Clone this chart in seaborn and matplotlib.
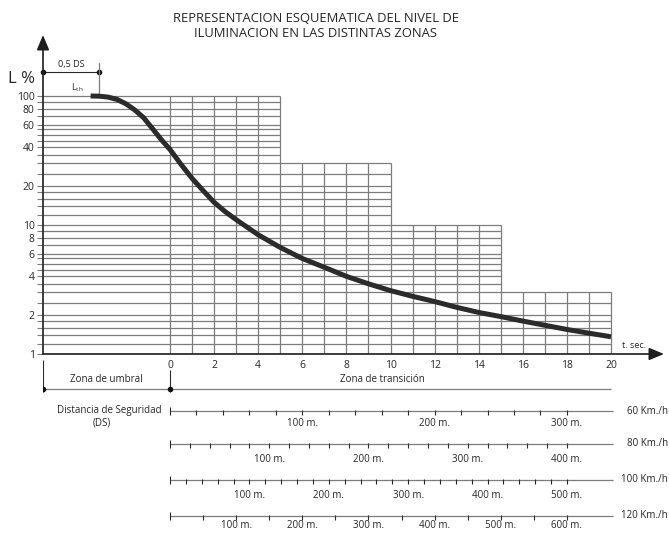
import numpy as np
import pandas as pd
import matplotlib
matplotlib.use("Agg")
import matplotlib.pyplot as plt
from matplotlib.ticker import NullLocator
import seaborn as sns

# ---------------- data ----------------
curve_t = [-3.6, -3.2, -2.8, -2.4, -2.0, -1.6, -1.2, -0.8, -0.4, 0.0, 0.5, 1.0, 1.5,
           2.0, 2.5, 3.0, 4.0, 5.0, 6.0, 7.0, 8.0, 9.0, 10.0, 11.0, 12.0, 13.0,
           14.0, 15.0, 16.0, 17.0, 18.0, 19.0, 20.0]
curve_L = [100, 99.7, 98, 94, 87, 78, 68, 56, 46, 38.5, 29.5, 23, 18.5,
           15, 12.7, 11, 8.4, 6.7, 5.5, 4.7, 4.0, 3.5, 3.1, 2.8, 2.55, 2.3,
           2.1, 1.95, 1.8, 1.67, 1.55, 1.45, 1.36]

step_start = [0, 5, 10, 15]          # s
step_end = [5, 10, 15, 20]           # s
step_level = [100, 30, 10, 3]        # %

grid_mult = [1, 1.2, 1.4, 1.6, 1.8, 2, 2.5, 3, 3.5, 4, 4.5, 5, 5.5, 6, 7, 8, 9]
ytick_labels = [1, 2, 4, 6, 8, 10, 20, 40, 60, 80, 100]
xtick_labels = [0, 2, 4, 6, 8, 10, 12, 14, 16, 18, 20]

speeds_kmh = [60, 80, 100, 120]
speed_tick_m = [20, 20, 20, 50]
speed_label_max_m = [300, 400, 500, 600]
label_step_m = 100

title = "REPRESENTACION ESQUEMATICA DEL NIVEL DE\nILUMINACION EN LAS DISTINTAS ZONAS"

# ---------------- layout (pixels of the 669x533 canvas) ----------------
W, H = 669, 533
AX_L, AX_R, AX_TOP, AX_BOT = 43, 664, 35, 354
X0_PX, PX_PER_S, DECADE_PX = 170, 22.05, 129
ZONE_Y = 389
SPEED_Y = [411, 444, 480, 516]
SPEED_LABEL_Y = [424, 460, 495, 526]

GRID_C = "#7c7c7c"
INK = "#2b2b2b"
TXT = "#262626"

sns.set_theme(style="white")
plt.rcParams["font.family"] = ["Open Sans", "DejaVu Sans"]
plt.rcParams["text.color"] = TXT


def fx(px):
    return px / W


def fy(py):
    return 1 - py / H


def px_to_t(px):
    return (px - X0_PX) / PX_PER_S


def py_to_L(py):
    return 10 ** ((AX_BOT - py) / DECADE_PX)


xlim = (px_to_t(AX_L), px_to_t(AX_R))

fig = plt.figure(figsize=(W / 100, H / 100), dpi=100)
ax = fig.add_axes([fx(AX_L), fy(AX_BOT), (AX_R - AX_L) / W, (AX_BOT - AX_TOP) / H])
ax.set_yscale("log")
ax.set_xlim(*xlim)
ax.set_ylim(1, py_to_L(AX_TOP))
for s in ax.spines.values():
    s.set_visible(False)

# horizontal grid lines, each running to the end of the highest step that reaches it
levels = [m * 10 ** d for d in (0, 1) for m in grid_mult] + [100]
for lv in levels:
    ends = [e for e, l in zip(step_end, step_level) if l >= lv - 1e-9]
    ax.hlines(lv, xlim[0], max(ends), color=GRID_C, lw=0.9, zorder=1)

# vertical grid lines inside each step block
for t in range(0, 21):
    tops = [l for s0, e, l in zip(step_start, step_end, step_level) if s0 <= t <= e]
    ax.vlines(t, 1, max(tops), color=GRID_C, lw=0.9, zorder=1)

# the curve
df = pd.DataFrame({"t": curve_t, "L": curve_L})
sns.lineplot(data=df, x="t", y="L", ax=ax, color=INK, lw=3.6, sort=False,
             solid_capstyle="butt", zorder=3)
ax.set_xlabel("")
ax.set_ylabel("")

# ticks
ax.set_yticks(levels, labels=[(f"{v:g}" if v in ytick_labels else "") for v in levels])
ax.yaxis.set_minor_locator(NullLocator())
ax.tick_params(axis="y", length=4, width=0.8, color=GRID_C, pad=2, labelsize=7.5,
               labelcolor=TXT, left=True)
ax.set_xticks(xtick_labels, labels=[str(v) for v in xtick_labels])
ax.xaxis.set_minor_locator(NullLocator())
ax.tick_params(axis="x", length=0, pad=4, labelsize=7.5, labelcolor=TXT, bottom=True)

# axis arrows
arrow = dict(arrowstyle="-|>,head_length=0.6,head_width=0.25", color="#1e1e1e",
             lw=1.2, mutation_scale=15, shrinkA=0, shrinkB=0)
ax.annotate("", xy=(1, 0), xytext=(0, 0), xycoords="axes fraction", arrowprops=arrow)
ax.annotate("", xy=(0, 1), xytext=(0, 0), xycoords="axes fraction", arrowprops=arrow)

# top annotations
fig.text(fx(21), fy(79), "L %", fontsize=12, ha="center", va="center", color=TXT)
half_ds = px_to_t(99)
ax.plot([xlim[0], half_ds], [py_to_L(72)] * 2, color=INK, lw=0.8, clip_on=False)
ax.plot([xlim[0], half_ds], [py_to_L(72)] * 2, ls="none", marker="o", ms=3,
        color="#111111", clip_on=False)
ax.plot([half_ds, half_ds], [py_to_L(93), py_to_L(63)], color=GRID_C, lw=0.9,
        clip_on=False)
fig.text(fx(71), fy(65), "0,5 DS", fontsize=6.5, ha="center", va="center", color=TXT)
fig.text(fx(77), fy(88), r"$\mathregular{L_{th}}$", fontsize=6.5, ha="center", va="center",
         color=TXT)
fig.text(fx(634), fy(346), "t. sec.", fontsize=6.5, ha="center", va="center", color=TXT)

fig.text(fx(316), fy(26), title, fontsize=9.4, ha="center", va="center",
         linespacing=1.25, color=TXT)

# ---------------- bottom rulers ----------------
bax = fig.add_axes([fx(AX_L), 0, (AX_R - AX_L) / W, (H - AX_BOT) / H], sharex=ax)
bax.set_ylim(H, AX_BOT)
bax.axis("off")

# zones
bax.hlines(ZONE_Y, xlim[0], 20, color=GRID_C, lw=0.9)
for t0, top in [(xlim[0], 360), (0, 370)]:
    bax.vlines(t0, top, ZONE_Y + 3, color=INK, lw=0.8)
    bax.plot([t0], [ZONE_Y], marker="o", ms=3, color="#111111")
bax.text((px_to_t(AX_L) + 0) / 2, 380, "Zona de umbral", fontsize=7, ha="center",
         va="center")
bax.text(9.65, 380, "Zona de transición", fontsize=7, ha="center", va="center")

bax.text(px_to_t(162), SPEED_Y[0] - 1, "Distancia de Seguridad", fontsize=7, ha="right",
         va="center")
bax.text(px_to_t(102), SPEED_Y[0] + 12, "(DS)", fontsize=7, ha="center", va="center")

for v, step, dmax, y, ly in zip(speeds_kmh, speed_tick_m, speed_label_max_m, SPEED_Y,
                                SPEED_LABEL_Y):
    ms = v / 3.6
    bax.hlines(y, 0, 20.1, color=GRID_C, lw=0.9)
    bax.vlines(0, y - 4, y + 4, color=INK, lw=0.8)
    dists = np.arange(step, dmax + 1, step)
    bax.vlines(dists / ms, y - 1, y + 4, color=INK, lw=0.8)
    for d in np.arange(label_step_m, dmax + 1, label_step_m):
        bax.text(d / ms, ly, f"{d:d} m.", fontsize=7, ha="center", va="center")
    bax.text(px_to_t(668), y, f"{v} Km./h", fontsize=7, ha="right", va="center")

fig.savefig("out.png", dpi=100)
